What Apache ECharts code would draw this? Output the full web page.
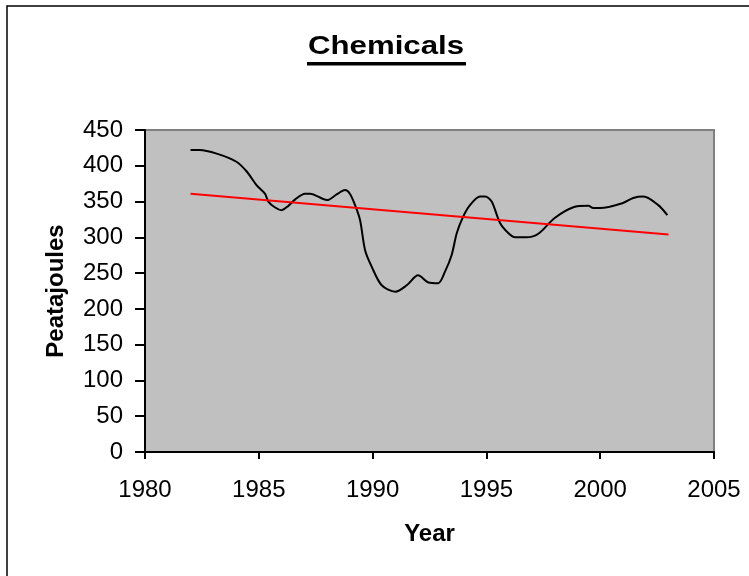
<!DOCTYPE html>
<html>
<head>
<meta charset="utf-8">
<script src="https://cdn.jsdelivr.net/npm/echarts@6/dist/echarts.min.js"></script>
<style>
  html, body { margin: 0; padding: 0; background: #fff; }
  #chart { width: 749px; height: 576px; }
</style>
</head>
<body>
<div id="chart"></div>
<script>
// Energy use by the chemicals sector (petajoules), by year
const years = [1982.0, 1982.4, 1983.15, 1984.0, 1984.47, 1984.9, 1985.27, 1985.42, 1985.7, 1986.0,
  1986.3, 1986.6, 1987.03, 1987.25, 1988.0, 1988.42, 1988.79, 1989.0, 1989.23, 1989.45,
  1989.67, 1989.96, 1990.4, 1991.0, 1991.5, 1992.0, 1992.45, 1992.88, 1993.18, 1993.47,
  1993.7, 1993.98, 1994.28, 1994.72, 1994.94, 1995.23, 1995.6, 1995.96, 1996.26, 1996.77,
  1997.28, 1998.0, 1998.82, 1999.48, 1999.69, 2000.0, 2001.0, 2001.45, 2001.9, 2002.55, 2002.95];
const energy = [422, 422, 417, 406, 392, 373, 361, 350, 342, 338,
  344, 353, 361, 361, 352, 360, 366, 361, 345, 324,
  282, 259, 233, 224, 233, 247, 237, 236, 252, 275,
  306, 329, 345, 357, 357, 350, 320, 306, 300, 300,
  305, 327, 342, 344, 341, 341, 348, 355, 357, 345, 331];

// Linear trend endpoints
const trendYears = [1982, 2003];
const trendValues = [361, 304];

const xTicks = [1980, 1985, 1990, 1995, 2000, 2005];
const yTicks = [0, 50, 100, 150, 200, 250, 300, 350, 400, 450];

const font = '"Liberation Sans", Arial, sans-serif';
const chart = echarts.init(document.getElementById('chart'));

chart.setOption({
  animation: false,
  backgroundColor: '#ffffff',
  graphic: [
    { type: 'rect', shape: { x: 7, y: 6, width: 760, height: 600 },
      style: { fill: 'none', stroke: '#000', lineWidth: 1.5 }, z: 0 },
    { type: 'text', x: 386, y: 47, scaleX: 1.2,
      style: { text: 'Chemicals', font: 'bold 26px ' + font, fill: '#000',
               align: 'center', verticalAlign: 'middle' } },
    { type: 'rect', shape: { x: 307, y: 62, width: 159, height: 3.5 },
      style: { fill: '#000' } }
  ],
  grid: {
    left: 145, right: 35, top: 130, bottom: 124,
    show: true, backgroundColor: '#c0c0c0', borderColor: '#808080', borderWidth: 2
  },
  xAxis: {
    type: 'value', min: xTicks[0], max: xTicks[xTicks.length - 1], interval: 5,
    name: 'Year', nameLocation: 'middle', nameGap: 70,
    nameTextStyle: { fontFamily: font, fontSize: 24, fontWeight: 'bold', color: '#000' },
    axisLine: { lineStyle: { color: '#000', width: 2 } },
    axisTick: { show: true, length: 7, lineStyle: { color: '#000', width: 2 } },
    axisLabel: { fontFamily: font, fontSize: 24, color: '#000', margin: 26,
                 formatter: v => String(v) },
    splitLine: { show: false }
  },
  yAxis: {
    type: 'value', min: yTicks[0], max: yTicks[yTicks.length - 1], interval: 50,
    name: 'Peatajoules', nameLocation: 'middle', nameGap: 77, nameRotate: 90,
    nameTextStyle: { fontFamily: font, fontSize: 24, fontWeight: 'bold', color: '#000' },
    axisLine: { show: true, lineStyle: { color: '#000', width: 2 } },
    axisTick: { show: true, length: 10, lineStyle: { color: '#000', width: 2 } },
    axisLabel: { fontFamily: font, fontSize: 24, color: '#000', margin: 22,
                 formatter: v => String(v) },
    splitLine: { show: false }
  },
  series: [
    {
      type: 'line', smooth: 0.3, symbol: 'none',
      data: years.map((y, i) => [y, energy[i]]),
      lineStyle: { color: '#000', width: 2 }
    },
    {
      type: 'line', symbol: 'none',
      data: trendYears.map((y, i) => [y, trendValues[i]]),
      lineStyle: { color: '#ff0000', width: 2 }
    }
  ]
});
</script>
</body>
</html>
